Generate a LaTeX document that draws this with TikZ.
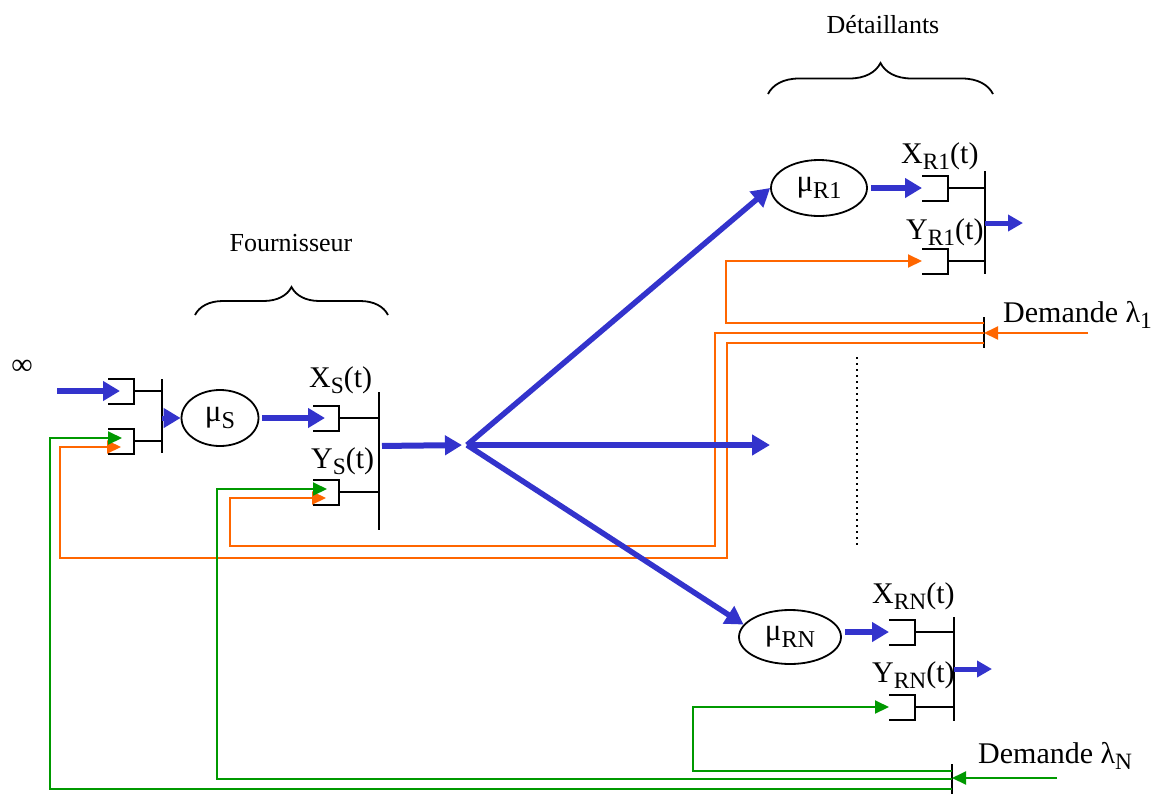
\documentclass[tikz,border=0pt]{standalone}
\usepackage{fontspec}
\setmainfont{Liberation Serif}
\usetikzlibrary{shapes.geometric, arrows.meta, decorations.pathreplacing}
\definecolor{bleu}{RGB}{51,51,204}
\definecolor{orng}{RGB}{255,102,0}
\definecolor{vert}{RGB}{0,153,0}
\newcommand{\lw}[1]{\raisebox{-0.2em}{\scalebox{0.78}{#1}}}
\newcommand{\fs}[1]{\fontsize{#1}{#1}\selectfont}

\begin{document}
\begin{tikzpicture}[
    x=1pt, y=-1pt,
    srv/.style={draw, ellipse, line width=1.8pt, inner sep=0pt, font=\fs{31}},
    lab/.style={inner sep=0pt, anchor=base west, font=\fs{30}},
    dem/.style={inner sep=0pt, anchor=base west, font=\fs{30}},
    grp/.style={inner sep=0pt, anchor=base, font=\fs{26}},
    qline/.style={line width=2pt},
    brc/.style={decorate, decoration={brace, amplitude=#1}, line width=1.8pt},
    flow/.style={draw=bleu, line width=6pt, -{Triangle[length=17pt, width=19pt]}},
    fan/.style={draw=bleu, line width=5.5pt, -{Triangle[length=18pt, width=20pt]}},
    sortie/.style={draw=bleu, line width=5pt, -{Triangle[length=15pt, width=16pt]}},
    cmdO/.style={draw=orng, line width=2pt, -{Triangle[length=14pt, width=13pt]}},
    cmdV/.style={draw=vert, line width=2pt, -{Triangle[length=14pt, width=13pt]}},
    buf/.pic={
        \draw[qline] (0,-12.5) -- (26,-12.5) -- (26,12.5) -- (0,12.5);
        \coordinate (-in) at (0,0);
        \coordinate (-tip) at (12,0);
        \coordinate (-gtip) at (14,-3);
        \coordinate (-otip) at (13,6);
        \coordinate (-out) at (26,0);
    }
]
\useasboundingbox (0,0) rectangle (1168,793);

% fournisseur
\node[lab, anchor=center] (infty) at (22,367) {∞};
\coordinate (infIn) at (57,391);
\pic (src1) at (108,391) {buf};
\pic (src2) at (108,441) {buf};
\coordinate (srcT) at (162,379);
\coordinate (srcB) at (162,453);
\node[srv, minimum width=77pt, minimum height=56pt] (muS) at (220,418) {μ\lw{S}};
\pic (xs) at (313,418) {buf};
\pic (ys) at (313,492) {buf};
\coordinate (sT) at (379,392);
\coordinate (sB) at (379,530);
\node[lab] (lxs) at (309,387) {X\lw{S}(t)};
\node[lab] (lys) at (311,468) {Y\lw{S}(t)};
\coordinate (sOut) at (379,446);
\coordinate (fork) at (467,445);
\coordinate (mid) at (770,445);
\draw[brc=28pt] (195,315) -- (388,315);
\node[grp] (four) at (291,251) {Fournisseur};

% detaillant 1
\node[srv, minimum width=96pt, minimum height=56pt] (muR1) at (819,188) {μ\lw{R1}};
\pic (xr1) at (922,188) {buf};
\pic (yr1) at (922,261) {buf};
\coordinate (r1T) at (985,171);
\coordinate (r1B) at (985,274);
\coordinate (r1End) at (1023,223);
\node[lab] (lxr1) at (901,163) {X\lw{R1}(t)};
\node[lab] (lyr1) at (906,239) {Y\lw{R1}(t)};
\coordinate (d1T) at (984,317);
\coordinate (d1B) at (984,348);
\coordinate (d1a) at (984,323);
\coordinate (d1b) at (984,333);
\coordinate (d1c) at (984,343);
\coordinate (d1In) at (1088,333);
\node[dem] (dem1) at (1003,322) {Demande λ\lw{1}};

% detaillant N
\node[srv, minimum width=102pt, minimum height=54pt] (muRN) at (790,637) {μ\lw{RN}};
\pic (xrn) at (889,632) {buf};
\pic (yrn) at (889,707) {buf};
\coordinate (rnT) at (954,617);
\coordinate (rnB) at (954,721);
\coordinate (rnEnd) at (992,669);
\node[lab] (lxrn) at (872,603) {X\lw{RN}(t)};
\node[lab] (lyrn) at (872,682) {Y\lw{RN}(t)};
\coordinate (dNT) at (952,764);
\coordinate (dNB) at (952,796);
\coordinate (dNa) at (952,771);
\coordinate (dNb) at (952,779);
\coordinate (dNc) at (952,789);
\coordinate (dNIn) at (1057,778);
\node[dem] (demN) at (978,763) {Demande λ\lw{N}};

\draw[brc=31pt] (768,94) -- (993,94);
\node[grp] (det) at (883,33) {Détaillants};
\draw[line width=2pt, dash pattern=on 2pt off 4pt] (857,357) -- (857,545);

% barres
\draw[qline] (srcT) -- (srcB);
\draw[qline] (src1-out) -- (src1-out -| srcT);
\draw[qline] (src2-out) -- (src2-out -| srcT);
\draw[qline] (sT) -- (sB);
\draw[qline] (xs-out) -- (xs-out -| sT);
\draw[qline] (ys-out) -- (ys-out -| sT);
\draw[qline] (r1T) -- (r1B);
\draw[qline] (xr1-out) -- (xr1-out -| r1T);
\draw[qline] (yr1-out) -- (yr1-out -| r1T);
\draw[qline] (rnT) -- (rnB);
\draw[qline] (xrn-out) -- (xrn-out -| rnT);
\draw[qline] (yrn-out) -- (yrn-out -| rnT);
\draw[qline] (d1T) -- (d1B);
\draw[qline] (dNT) -- (dNB);

% demandes
\draw[cmdO] (d1In) -- (d1T |- d1In);
\draw[cmdO] (d1a) -- (726,323) |- (yr1-in);
\draw[cmdO] (d1b) -- (715,333) -- (715,546) -- (230,546) |- (ys-otip);
\draw[cmdO] (d1c) -- (727,343) -- (727,558) -- (60,558) |- (src2-otip);
\draw[cmdV] (dNIn) -- (dNT |- dNIn);
\draw[cmdV] (dNa) -- (693,771) |- (yrn-in);
\draw[cmdV] (dNb) -- (217,779) |- (ys-gtip);
\draw[cmdV] (dNc) -- (50,789) |- (src2-gtip);

% flux
\draw[flow] (infIn) -- (src1-tip);
\draw[flow, line width=5pt] (srcT |- muS) -- (muS.west);
\draw[flow, shorten <=3pt] (muS.east |- xs-tip) -- (xs-tip);
\draw[flow, shorten <=3pt, shorten >=5pt] (sOut) -- (fork);
\draw[fan] (fork) -- (muR1.west);
\draw[fan] (fork) -- (mid);
\draw[fan] (fork) -- (muRN.165);
\draw[flow, shorten <=3pt] (muR1.east |- xr1-in) -- (xr1-in);
\draw[flow, shorten <=3pt] (muRN.east |- xrn-in) -- (xrn-in);
\draw[sortie] (r1T |- r1End) -- (r1End);
\draw[sortie] (rnT |- rnEnd) -- (rnEnd);
\end{tikzpicture}
\end{document}
